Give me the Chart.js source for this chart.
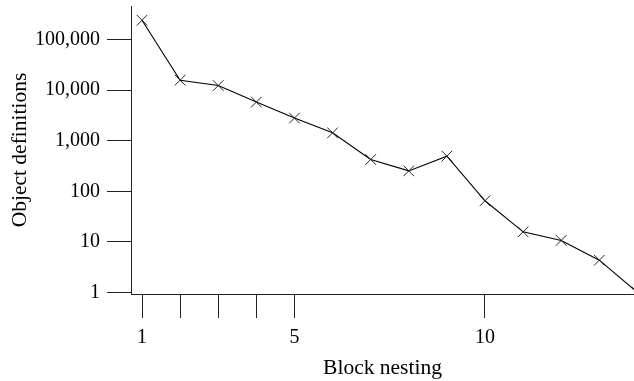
<!DOCTYPE html>
<html>
<head>
<meta charset="utf-8">
<script src="https://cdn.jsdelivr.net/npm/chart.js@4/dist/chart.umd.min.js"></script>
<style>
  html, body { margin: 0; padding: 0; background: #fff; }
  #wrap { width: 634px; height: 381px; }
</style>
</head>
<body>
<div id="wrap"><canvas id="chart"></canvas></div>
<script>
/* ---- data ---- */
const nesting = [1, 2, 3, 4, 5, 6, 7, 8, 9, 10, 11, 12, 13, 14];
const definitions = [240000, 15700, 12300, 5800, 2800, 1430, 425, 253, 495, 65, 15.8, 10.7, 4.35, 1];

const xTickValues = [1, 2, 3, 4, 5, 10];
const xTickLabels = ['1', '', '', '', '5', '10'];
const yTickValues = [1, 10, 100, 1000, 10000, 100000];
const yTickLabels = ['1', '10', '100', '1,000', '10,000', '100,000'];

const FONT = "'Liberation Serif', 'Times New Roman', serif";
const INK = '#000';

// kill the label overhang padding chart.js adds, so the plot box sits where we want
const noOverhang = (s) => { s.paddingTop = 0; s.paddingBottom = 0; s.paddingLeft = 0; s.paddingRight = 0; };

new Chart(document.getElementById('chart'), {
  type: 'line',
  data: {
    datasets: [{
      data: nesting.map((n, i) => ({ x: n, y: definitions[i] })),
      borderColor: INK,
      borderWidth: 1.1,
      pointStyle: 'crossRot',
      pointRadius: 7.5,
      pointBorderColor: '#222',
      pointBorderWidth: 1,
      tension: 0,
    }],
  },
  options: {
    responsive: true, maintainAspectRatio: false,
    animation: false,
    layout: { autoPadding: false, padding: { top: 6, left: 0, right: 0, bottom: 0 } },
    plugins: { legend: { display: false }, tooltip: { enabled: false } },
    scales: {
      x: {
        type: 'linear',
        min: 0.711, max: 13.91,
        afterFit: (s) => { s.height = 87; noOverhang(s); },
        afterBuildTicks: (s) => { s.ticks = xTickValues.map((v) => ({ value: v })); },
        grid: { drawOnChartArea: false, drawTicks: true, tickLength: 24, color: '#222', lineWidth: 1 },
        border: { display: true, color: '#222', width: 1 },
        ticks: {
          autoSkip: false, maxRotation: 0, padding: 8, color: INK,
          font: { family: FONT, size: 20 },
          callback: (v) => xTickLabels[xTickValues.indexOf(v)] ?? '',
        },
        title: { display: true, text: 'Block nesting', color: INK, font: { family: FONT, size: 21.5 }, padding: { top: 0, bottom: 0 } },
      },
      y: {
        type: 'logarithmic',
        min: 0.934, max: 459000,
        afterFit: (s) => { s.width = 131; noOverhang(s); },
        afterBuildTicks: (s) => { s.ticks = yTickValues.map((v) => ({ value: v })); },
        grid: { drawOnChartArea: false, drawTicks: true, tickLength: 24, color: '#222', lineWidth: 1 },
        border: { display: true, color: '#222', width: 1 },
        ticks: {
          autoSkip: false, padding: 7, color: INK,
          font: { family: FONT, size: 20 },
          callback: (v) => yTickLabels[yTickValues.indexOf(v)] ?? '',
        },
        title: { display: true, text: 'Object definitions', color: INK, font: { family: FONT, size: 21.5 }, padding: { top: 7, bottom: 0 } },
      },
    },
  },
});
</script>
</body>
</html>
